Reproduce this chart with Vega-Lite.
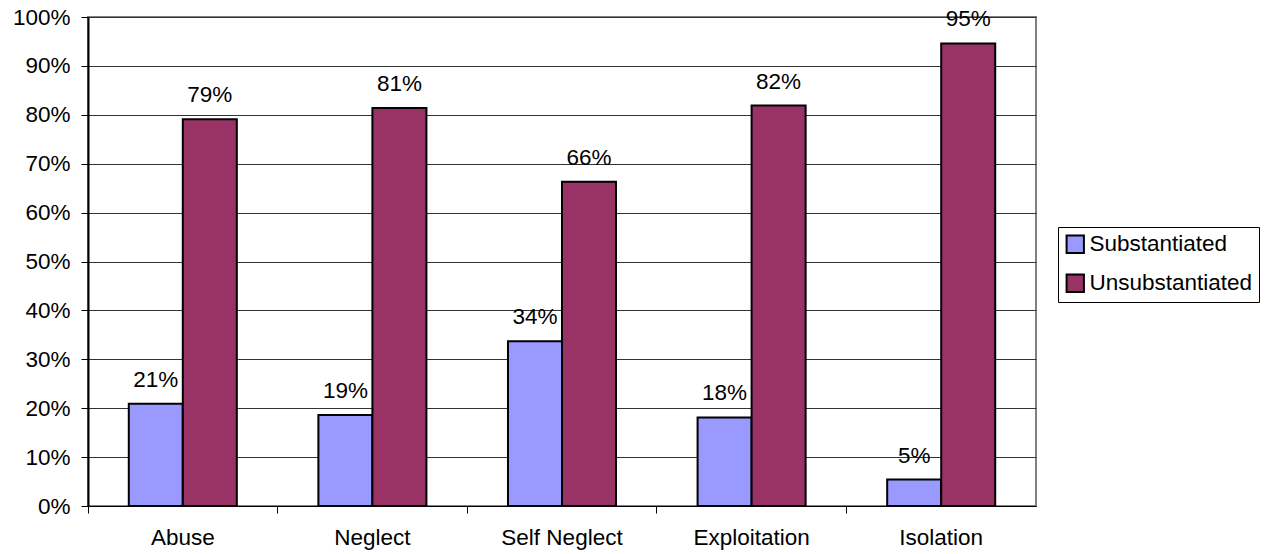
{
  "$schema": "https://vega.github.io/schema/vega-lite/v6.json",
  "width": 948,
  "height": 489,
  "autosize": {"type": "none"},
  "padding": {"left": 88, "top": 17, "right": 231, "bottom": 48},
  "background": "white",
  "config": {
    "font": "Liberation Sans",
    "view": {"stroke": "#808080", "strokeWidth": 2}
  },
  "data": {
    "values": [
      {"cat": "Abuse", "type": "Substantiated", "v": 0.209},
      {"cat": "Abuse", "type": "Unsubstantiated", "v": 0.791},
      {"cat": "Neglect", "type": "Substantiated", "v": 0.186},
      {"cat": "Neglect", "type": "Unsubstantiated", "v": 0.814},
      {"cat": "Self Neglect", "type": "Substantiated", "v": 0.337},
      {"cat": "Self Neglect", "type": "Unsubstantiated", "v": 0.663},
      {"cat": "Exploitation", "type": "Substantiated", "v": 0.181},
      {"cat": "Exploitation", "type": "Unsubstantiated", "v": 0.819},
      {"cat": "Isolation", "type": "Substantiated", "v": 0.054},
      {"cat": "Isolation", "type": "Unsubstantiated", "v": 0.946}
    ]
  },
  "encoding": {
    "x": {
      "field": "cat", "type": "nominal", "sort": null,
      "scale": {"paddingInner": 0, "paddingOuter": 0},
      "axis": {
        "title": null, "labelAngle": 0, "labelFontSize": 22.5, "labelColor": "black",
        "bandPosition": 0, "tickSize": 7, "tickColor": "black", "domainColor": "black",
        "domainWidth": 1, "labelPadding": 13, "grid": false
      }
    },
    "xOffset": {
      "field": "type", "type": "nominal",
      "scale": {"paddingInner": 0, "paddingOuter": 0.755}
    },
    "y": {
      "field": "v", "type": "quantitative",
      "scale": {"domain": [0, 1], "nice": false},
      "axis": {
        "title": null, "format": ".0%", "values": [0,0.1,0.2,0.3,0.4,0.5,0.6,0.7,0.8,0.9,1],
        "labelOverlap": false, "labelBound": false,
        "labelFontSize": 22.5, "labelColor": "black", "tickSize": 7, "tickColor": "black",
        "domainColor": "black", "domainWidth": 2, "labelPadding": 11,
        "grid": true, "gridColor": "#333", "gridWidth": 1
      }
    }
  },
  "layer": [
    {
      "mark": {"type": "bar", "stroke": "black", "strokeWidth": 2},
      "encoding": {
        "color": {
          "field": "type", "type": "nominal",
          "scale": {"domain": ["Substantiated", "Unsubstantiated"], "range": ["#9999FF", "#993366"]},
          "legend": {
            "title": null, "orient": "none", "legendX": 970, "legendY": 210,
            "symbolType": "square", "symbolSize": 300, "symbolStrokeColor": "black", "symbolStrokeWidth": 2,
            "labelFontSize": 22.5, "labelColor": "black", "labelOffset": 3, "labelLimit": 400,
            "strokeColor": "black", "fillColor": "white", "padding": 6, "rowPadding": 13
          }
        }
      }
    },
    {
      "mark": {"type": "text", "baseline": "alphabetic", "dy": -17, "fontSize": 22.5, "color": "black"},
      "encoding": {
        "text": {"field": "v", "type": "quantitative", "format": ".0%"}
      }
    }
  ]
}
